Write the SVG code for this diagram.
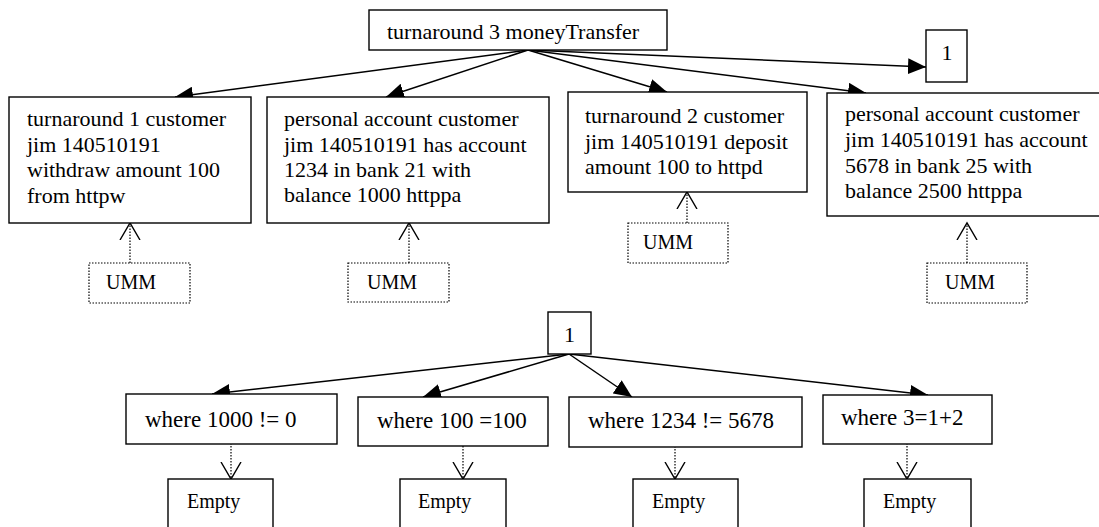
<svg xmlns="http://www.w3.org/2000/svg" width="1099" height="527" viewBox="0 0 1099 527">
<style>
.box{fill:#fff;stroke:#000;stroke-width:1.4}
.dbox{fill:#fff;stroke:#000;stroke-width:1.2;stroke-dasharray:1.5 1.5}
.t{font-family:"Liberation Serif","Times New Roman",serif;font-size:22px;fill:#000}
.w{font-family:"Liberation Serif","Times New Roman",serif;font-size:23px;fill:#000}
.s{font-family:"Liberation Serif","Times New Roman",serif;font-size:20px;fill:#000}
.e{stroke:#000;stroke-width:1.5;fill:none;marker-end:url(#fa)}
.d{stroke:#000;stroke-width:1.2;fill:none;stroke-dasharray:1.5 1.5;marker-end:url(#oa)}
</style>
<defs>
<marker id="fa" markerUnits="userSpaceOnUse" markerWidth="19" markerHeight="16" refX="18" refY="8" orient="auto" viewBox="0 0 19 16">
<path d="M0,0 L18,8 L0,16 z" fill="#000"/>
</marker>
<marker id="oa" markerUnits="userSpaceOnUse" markerWidth="19" markerHeight="22" refX="17" refY="11" orient="auto" viewBox="0 0 19 22">
<path d="M0,1 L17,11 L0,21" fill="none" stroke="#000" stroke-width="1.4"/>
</marker>
</defs>
<g id="connectors">
<line class="e" x1="528" y1="50" x2="175" y2="97"/>
<line class="e" x1="528" y1="50" x2="386" y2="97"/>
<line class="e" x1="528" y1="50" x2="667" y2="92"/>
<line class="e" x1="528" y1="50" x2="926" y2="67"/>
<line class="e" x1="528" y1="50" x2="866" y2="93"/>
<line class="d" x1="130" y1="263" x2="130" y2="223"/>
<line class="d" x1="409" y1="263" x2="409" y2="223"/>
<line class="d" x1="687" y1="223" x2="687" y2="192"/>
<line class="d" x1="967" y1="263" x2="967" y2="223"/>
<line class="e" x1="569" y1="354" x2="212" y2="394"/>
<line class="e" x1="569" y1="354" x2="423" y2="397"/>
<line class="e" x1="569" y1="354" x2="632" y2="397"/>
<line class="e" x1="569" y1="354" x2="928" y2="395"/>
<line class="d" x1="231" y1="437" x2="231" y2="479"/>
<line class="d" x1="463" y1="437" x2="463" y2="479"/>
<line class="d" x1="675" y1="437" x2="675" y2="479"/>
<line class="d" x1="907" y1="437" x2="907" y2="479"/>
</g>
<g id="top"><rect class="box" x="369" y="10" width="298" height="40"/><text class="t" x="387" y="39">turnaround 3 moneyTransfer</text></g>
<g id="n1"><rect class="box" x="9" y="97" width="242" height="126"/>
<text class="t" x="27" y="126">turnaround 1 customer</text>
<text class="t" x="27" y="152">jim 140510191</text>
<text class="t" x="27" y="177">withdraw amount 100</text>
<text class="t" x="27" y="203">from httpw</text></g>
<g id="n2"><rect class="box" x="267" y="97" width="282" height="126"/>
<text class="t" x="284" y="126">personal account customer</text>
<text class="t" x="284" y="152">jim 140510191 has account</text>
<text class="t" x="284" y="177">1234 in bank 21 with</text>
<text class="t" x="284" y="202">balance 1000 httppa</text></g>
<g id="n3"><rect class="box" x="568" y="92" width="239" height="100"/>
<text class="t" x="585" y="123">turnaround 2 customer</text>
<text class="t" x="585" y="149">jim 140510191 deposit</text>
<text class="t" x="585" y="174">amount 100 to httpd</text></g>
<g id="n4"><rect class="box" x="827" y="93" width="276" height="123"/>
<text class="t" x="845" y="121">personal account customer</text>
<text class="t" x="845" y="147">jim 140510191 has account</text>
<text class="t" x="845" y="173">5678 in bank 25 with</text>
<text class="t" x="845" y="198">balance 2500 httppa</text></g>
<g id="one-top"><rect class="box" x="926" y="30" width="41" height="52"/><text class="t" x="947" y="60" text-anchor="middle">1</text></g>
<g id="umm1"><rect class="dbox" x="89" y="263" width="101" height="40"/><text class="s" x="106" y="289">UMM</text></g>
<g id="umm2"><rect class="dbox" x="348" y="263" width="101" height="39"/><text class="s" x="367" y="289">UMM</text></g>
<g id="umm3"><rect class="dbox" x="628" y="223" width="100" height="40"/><text class="s" x="643" y="249">UMM</text></g>
<g id="umm4"><rect class="dbox" x="927" y="263" width="100" height="40"/><text class="s" x="945" y="289">UMM</text></g>
<g id="one-bottom"><rect class="box" x="548" y="312" width="43" height="42"/><text class="t" x="569.5" y="342" text-anchor="middle">1</text></g>
<g id="w1"><rect class="box" x="126" y="394" width="211" height="50"/><text class="w" x="145" y="427">where 1000 != 0</text></g>
<g id="w2"><rect class="box" x="358" y="397" width="190" height="49"/><text class="w" x="377" y="428">where 100 =100</text></g>
<g id="w3"><rect class="box" x="569" y="397" width="233" height="50"/><text class="w" x="588" y="428">where 1234 != 5678</text></g>
<g id="w4"><rect class="box" x="823" y="395" width="169" height="49"/><text class="w" x="841" y="425">where 3=1+2</text></g>
<g id="e1"><rect class="box" x="168" y="479" width="105" height="60"/><text class="s" x="187" y="508">Empty</text></g>
<g id="e2"><rect class="box" x="400" y="479" width="106" height="60"/><text class="s" x="418" y="508">Empty</text></g>
<g id="e3"><rect class="box" x="633" y="479" width="105" height="60"/><text class="s" x="652" y="508">Empty</text></g>
<g id="e4"><rect class="box" x="864" y="479" width="107" height="60"/><text class="s" x="883" y="508">Empty</text></g>
</svg>
